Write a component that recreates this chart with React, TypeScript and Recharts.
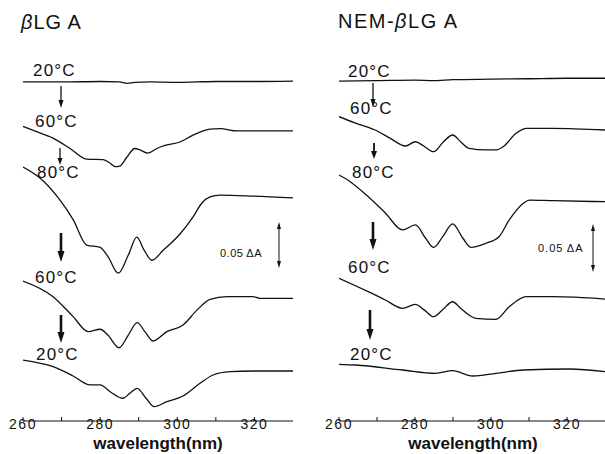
import React from "react";
import { LineChart, Line, XAxis, YAxis } from "recharts";

// wavelength (nm), offset difference absorbance (mΔA, curves stacked)
const bLG_20a = [[260, 367], [270, 367], [280, 367.5], [285, 367], [287, 365.5], [289, 366.5], [293, 367], [300, 366.5], [305, 367], [310, 367.5], [320, 367.5], [330, 368]];
const bLG_60a = [[260, 319], [263, 314], [267.9, 306], [272.2, 295], [276.5, 283.5], [280.8, 283], [282.6, 279], [283.9, 275.3], [285.1, 276], [287, 286], [289, 295], [290.3, 293.5], [292.4, 290], [294.7, 295], [297, 298.5], [300.7, 302], [304.1, 309.5], [308.5, 316], [311.1, 316.5], [315.5, 314], [320, 314], [330, 314]];
const bLG_80 = [[260, 275], [264.4, 263], [269.6, 239], [273, 218], [276.5, 190.5], [280, 188], [282.1, 177.5], [284.7, 160], [287.3, 179.7], [289.5, 199], [291.4, 185], [293.4, 174], [296.4, 185], [300.7, 202.4], [304.1, 221], [306.4, 236], [308.5, 242.5], [311.1, 244.5], [319.6, 243.5], [330, 241.5]];
const bLG_60b = [[260, 151.5], [267.8, 134.6], [273, 113], [276.9, 96.7], [280, 99.3], [282, 93], [284.9, 79.3], [287.3, 93], [289.6, 106.4], [291.6, 96.7], [293.7, 86.6], [297.3, 96.7], [301.5, 104], [305.1, 120], [308.5, 131.7], [312.9, 134.6], [319.6, 134.6], [321.4, 132.8], [330, 132.8]];
const bLG_20b = [[260, 66], [267.8, 58.8], [273, 48.7], [277.4, 39], [280, 39], [282.6, 31.7], [285.9, 24.6], [287.7, 30], [289.6, 35.4], [291.9, 24.6], [294, 15.5], [297.3, 20.9], [301.5, 27.1], [305.9, 40.8], [309.3, 49.8], [313.7, 53.4], [319.6, 54.1], [330, 54.1]];

const nem_20a = [[260, 368], [270, 368.5], [280, 369], [285, 368.5], [290, 369.5], [300, 370], [310, 370.5], [320, 371], [330, 371]];
const nem_60a = [[260, 329.4], [264, 323], [269.5, 315], [273.5, 306], [277.5, 297.7], [280.1, 302.3], [282.3, 297.7], [284.9, 291.5], [287.5, 302.3], [289.9, 309.6], [292, 302.3], [294.2, 295.2], [298.7, 293.4], [301.3, 293.4], [303.2, 297], [306.6, 311.4], [309.3, 316.8], [316.4, 316.8], [330, 315]];
const nem_80 = [[260, 266.3], [261.6, 262.7], [267.7, 242.8], [272.2, 225.2], [276.7, 206.8], [280.1, 212.2], [282.8, 197.8], [284.9, 188], [287.3, 199.5], [289.9, 213.3], [292.6, 197.8], [294.7, 188], [298.7, 192.4], [302.1, 199.5], [304.8, 217.6], [308.5, 235.7], [310.1, 239.2], [316.4, 238.5], [330, 237.4]];
const nem_60b = [[260, 154.5], [267.7, 140], [272.2, 131], [276.7, 122], [280.1, 126.3], [282.5, 120], [284.9, 112.9], [287.4, 121], [289.9, 129.1], [292, 122], [294.2, 114.7], [296, 111.2], [301.3, 110.1], [304.8, 123.7], [309.3, 134.6], [316.4, 134.6], [330, 132]];
const nem_20b = [[260, 61.4], [264.5, 60.6], [276.7, 55.2], [285.4, 51.6], [289.9, 54.5], [295.2, 48.7], [301.3, 51.6], [308.5, 55.2], [320.7, 56.3], [330, 53.4]];

const tickNm = [260, 270, 280, 290, 300, 310, 320];
const topTickNm = [270, 280, 290, 300, 310, 320];
const tempLabels = ["20°C", "60°C", "80°C", "60°C", "20°C"];

const INK = "#111";
const FONT = "'Liberation Sans', Arial, sans-serif";

const pts = (pairs: number[][]) => pairs.map(([nm, v]) => ({ nm, v }));

function Panel({ series, width, left, right }: { series: number[][][]; width: number; left: number; right: number }) {
  return (
    <LineChart width={width} height={454} margin={{ top: 33, right, bottom: 0, left }}>
      <XAxis
        xAxisId="b"
        type="number"
        dataKey="nm"
        domain={[260, 330]}
        ticks={tickNm}
        interval={0}
        allowDataOverflow
        height={33}
        tickSize={-4}
        tickMargin={2}
        stroke={INK}
        tickFormatter={(t: number) => (t % 20 === 0 ? String(t) : "")}
        tick={{ fill: INK, fontSize: 14, fontFamily: FONT, letterSpacing: 1.5 }}
      />
      <XAxis
        xAxisId="t"
        orientation="top"
        type="number"
        dataKey="nm"
        domain={[260, 330]}
        ticks={topTickNm}
        interval={0}
        height={0}
        tickSize={-4}
        stroke={INK}
        tick={false}
      />
      <YAxis yAxisId="l" domain={[0, 420]} width={0} tick={false} tickLine={false} stroke={INK} />
      <YAxis yAxisId="r" orientation="right" domain={[0, 420]} width={0} tick={false} tickLine={false} stroke={INK} />
      {series.map((s, i) => (
        <Line
          key={i}
          xAxisId="b"
          yAxisId="l"
          data={pts(s)}
          dataKey="v"
          type="monotone"
          stroke={INK}
          strokeWidth={1.3}
          dot={false}
          isAnimationActive={false}
        />
      ))}
    </LineChart>
  );
}

function Arrow({ x, y1, y2, w, hw, hl }: { x: number; y1: number; y2: number; w: number; hw: number; hl: number }) {
  return (
    <g>
      <line x1={x} y1={y1} x2={x} y2={y2 - hl + 1} stroke={INK} strokeWidth={w} />
      <polygon points={`${x - hw},${y2 - hl} ${x + hw},${y2 - hl} ${x},${y2}`} fill={INK} />
    </g>
  );
}

function DoubleArrow({ x, y1, y2 }: { x: number; y1: number; y2: number }) {
  return (
    <g>
      <line x1={x} y1={y1 + 5} x2={x} y2={y2 - 5} stroke={INK} strokeWidth={1} />
      <polygon points={`${x - 2},${y1 + 7} ${x + 2},${y1 + 7} ${x},${y1}`} fill={INK} />
      <polygon points={`${x - 2},${y2 - 7} ${x + 2},${y2 - 7} ${x},${y2}`} fill={INK} />
    </g>
  );
}

const leftLabelPos = [[33, 76], [35, 127], [37, 178], [35, 283], [36, 360]];
const rightLabelPos = [[348, 77], [350, 114], [352, 178], [348, 273], [350, 360]];

export default function App() {
  return (
    <div style={{ position: "absolute", left: 0, top: 0, width: 605, height: 454, overflow: "hidden", background: "#fff" }}>
      <div style={{ position: "absolute", left: 0, top: 0 }}>
        <Panel series={[bLG_20a, bLG_60a, bLG_80, bLG_60b, bLG_20b]} width={300} left={23} right={7} />
      </div>
      <div style={{ position: "absolute", left: 310, top: 0 }}>
        <Panel series={[nem_20a, nem_60a, nem_80, nem_60b, nem_20b]} width={297} left={29} right={2} />
      </div>
      <svg width={605} height={454} style={{ position: "absolute", left: 0, top: 0, pointerEvents: "none" }}>
        <g fontFamily={FONT} fill={INK}>
          <text x={21} y={29} fontSize={20} letterSpacing={1}>
            <tspan fontStyle="italic">β</tspan>LG A
          </text>
          <text x={338} y={28} fontSize={20} letterSpacing={1.5}>
            NEM-<tspan fontStyle="italic">β</tspan>LG A
          </text>
          {tempLabels.map((t, i) => (
            <text key={"l" + i} x={leftLabelPos[i][0]} y={leftLabelPos[i][1]} fontSize={17} letterSpacing={1.2}>
              {t}
            </text>
          ))}
          {tempLabels.map((t, i) => (
            <text key={"r" + i} x={rightLabelPos[i][0]} y={rightLabelPos[i][1]} fontSize={17} letterSpacing={1.2}>
              {t}
            </text>
          ))}
          <text x={220} y={257} fontSize={11} letterSpacing={0.5}>0.05 ΔA</text>
          <text x={538} y={252} fontSize={11} letterSpacing={1}>0.05 ΔA</text>
          <text x={158} y={449} fontSize={17} fontWeight="bold" textAnchor="middle">wavelength(nm)</text>
          <text x={473} y={449} fontSize={17} fontWeight="bold" textAnchor="middle">wavelength(nm)</text>
        </g>
        <Arrow x={61} y1={86} y2={108} w={1.3} hw={2.5} hl={8} />
        <Arrow x={60} y1={148} y2={165} w={1.3} hw={2.5} hl={7} />
        <Arrow x={61} y1={233} y2={262} w={2.6} hw={3.5} hl={11} />
        <Arrow x={61} y1={315} y2={343} w={2.6} hw={3.5} hl={11} />
        <Arrow x={373} y1={83} y2={107} w={1.3} hw={2.5} hl={8} />
        <Arrow x={374} y1={143} y2={159} w={1.8} hw={3} hl={8} />
        <Arrow x={373} y1={222} y2={250} w={2.6} hw={3.5} hl={11} />
        <Arrow x={370} y1={310} y2={340} w={2.6} hw={3.5} hl={11} />
        <DoubleArrow x={279} y1={222} y2={268} />
        <DoubleArrow x={593} y1={224} y2={272} />
      </svg>
    </div>
  );
}
